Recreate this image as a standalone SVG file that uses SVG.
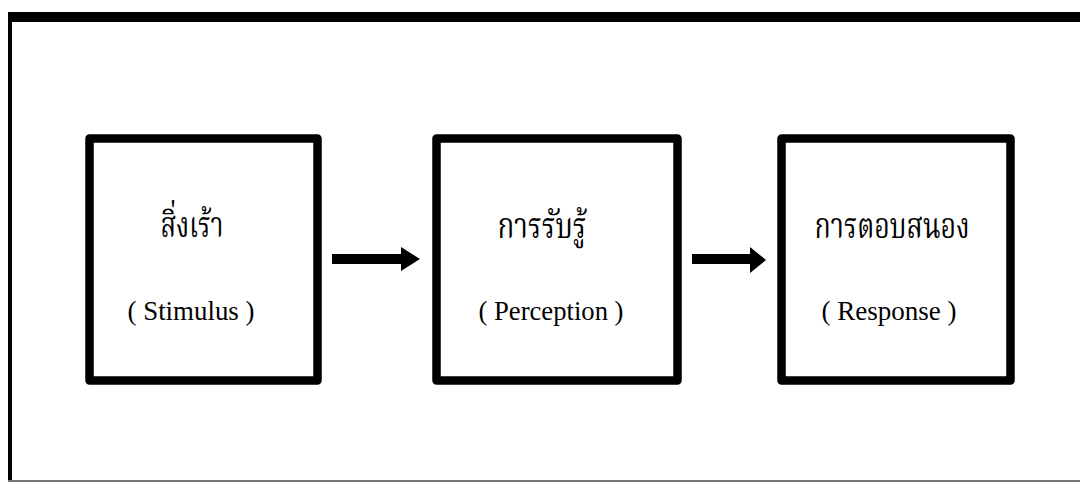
<svg xmlns="http://www.w3.org/2000/svg" width="1080" height="482" viewBox="0 0 1080 482">
<style>
.box{fill:#fff;stroke:#000;stroke-width:8.5;stroke-linejoin:round}
.th{font-family:"Noto Serif Thai","Noto Sans Thai","Loma","Garuda","Noto Sans","DejaVu Sans",sans-serif;font-size:36px;fill:#000;text-anchor:middle}
.en{font-family:"Liberation Serif","Times New Roman",serif;font-size:28px;fill:#000;text-anchor:middle}
.arrow{fill:#000}
</style>
<rect x="0" y="0" width="1080" height="482" fill="#fff"/>
<g id="frame">
<rect x="8" y="12" width="1072" height="10" fill="#000"/>
<rect x="8" y="12" width="4" height="470" fill="#000"/>
<rect x="8" y="480" width="1072" height="2" fill="#777"/>
</g>
<g id="node-stimulus">
<rect class="box" x="89.5" y="138.5" width="228" height="242"/>
<text class="th" x="192" y="237" textLength="63" lengthAdjust="spacingAndGlyphs">สิ่งเร้า</text>
<text class="en" x="191" y="320" textLength="127" lengthAdjust="spacingAndGlyphs">( Stimulus )</text>
</g>
<g id="node-perception">
<rect class="box" x="436.5" y="138.5" width="241" height="242"/>
<text class="th" x="542" y="238" textLength="89" lengthAdjust="spacingAndGlyphs">การรับรู้</text>
<text class="en" x="551" y="320" textLength="145" lengthAdjust="spacingAndGlyphs">( Perception )</text>
</g>
<g id="node-response">
<rect class="box" x="781.5" y="138.5" width="229" height="242"/>
<text class="th" x="892" y="238" textLength="155" lengthAdjust="spacingAndGlyphs">การตอบสนอง</text>
<text class="en" x="889" y="320" textLength="135" lengthAdjust="spacingAndGlyphs">( Response )</text>
</g>
<g id="connectors">
<path class="arrow" d="M332 254 H401 V247 L420 259 L401 271 V264 H332 Z"/>
<path class="arrow" d="M692 254 H750 V247 L766 260 L750 273 V264 H692 Z"/>
</g>
</svg>
